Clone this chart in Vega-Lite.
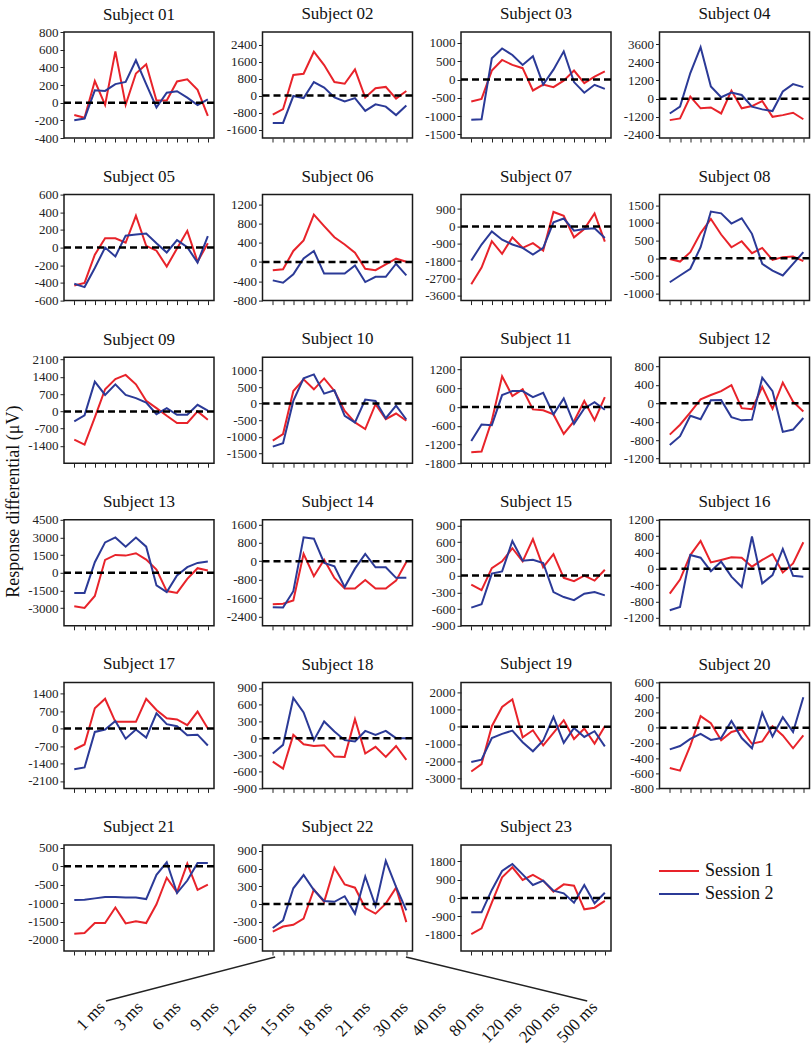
{
"$schema": "https://vega.github.io/schema/vega-lite/v6.json",
"padding": {"left": 4, "top": 4, "right": 0, "bottom": 0},
"background": "white",
"title": {"text": "Response differential (μV)", "orient": "left", "anchor": "middle", "frame": "bounds", "dx": 23, "font": "Liberation Serif", "fontSize": 18, "fontWeight": "normal", "color": "#111", "offset": 4},
"config": {
  "locale": {"number": {"decimal": ".", "thousands": "", "grouping": [3], "currency": ["$", ""], "minus": "-"}},
  "numberFormat": "d",
  "view": {"stroke": "#1a1a1a", "strokeWidth": 1.5},
  "title": {"font": "Liberation Serif", "fontSize": 17, "fontWeight": "normal", "offset": 9, "color": "#111", "frame": "group"},
  "axis": {"grid": false, "domain": false, "labelFont": "Liberation Serif", "labelFontSize": 13, "labelColor": "#222", "tickColor": "#222", "tickSize": 4, "labelPadding": 2, "labelOverlap": false, "labelBound": false, "tickCount": 40},
  "axisY": {"minExtent": 34, "maxExtent": 34},
  "legend": {"orient": "none", "legendX": 594, "legendY": 830, "labelFont": "Liberation Serif", "labelFontSize": 18, "labelColor": "#111", "labelOffset": 29, "rowPadding": 5, "padding": 0, "symbolSize": 256, "symbolStrokeWidth": 2}
},
"datasets": {
"d": [
{"s":"01","t":1,"Session 1":-140,"Session 2":-198},{"s":"01","t":2,"Session 1":-170,"Session 2":-180},{"s":"01","t":3,"Session 1":245,"Session 2":140},{"s":"01","t":4,"Session 1":-25,"Session 2":133},{"s":"01","t":5,"Session 1":580,"Session 2":210},{"s":"01","t":6,"Session 1":-25,"Session 2":235},{"s":"01","t":7,"Session 1":330,"Session 2":480},{"s":"01","t":8,"Session 1":435,"Session 2":210},{"s":"01","t":9,"Session 1":25,"Session 2":-55},{"s":"01","t":10,"Session 1":25,"Session 2":112},{"s":"01","t":11,"Session 1":240,"Session 2":130},{"s":"01","t":12,"Session 1":265,"Session 2":57},{"s":"01","t":13,"Session 1":145,"Session 2":-27},{"s":"01","t":14,"Session 1":-150,"Session 2":38},
{"s":"02","t":1,"Session 1":-900,"Session 2":-1290},{"s":"02","t":2,"Session 1":-640,"Session 2":-1290},{"s":"02","t":3,"Session 1":970,"Session 2":-20},{"s":"02","t":4,"Session 1":1030,"Session 2":-120},{"s":"02","t":5,"Session 1":2070,"Session 2":640},{"s":"02","t":6,"Session 1":1440,"Session 2":380},{"s":"02","t":7,"Session 1":640,"Session 2":-90},{"s":"02","t":8,"Session 1":560,"Session 2":-280},{"s":"02","t":9,"Session 1":1240,"Session 2":-120},{"s":"02","t":10,"Session 1":-90,"Session 2":-720},{"s":"02","t":11,"Session 1":350,"Session 2":-410},{"s":"02","t":12,"Session 1":410,"Session 2":-520},{"s":"02","t":13,"Session 1":-140,"Session 2":-920},{"s":"02","t":14,"Session 1":220,"Session 2":-470},
{"s":"03","t":1,"Session 1":-600,"Session 2":-1100},{"s":"03","t":2,"Session 1":-530,"Session 2":-1090},{"s":"03","t":3,"Session 1":245,"Session 2":580},{"s":"03","t":4,"Session 1":535,"Session 2":850},{"s":"03","t":5,"Session 1":400,"Session 2":670},{"s":"03","t":6,"Session 1":310,"Session 2":400},{"s":"03","t":7,"Session 1":-300,"Session 2":635},{"s":"03","t":8,"Session 1":-140,"Session 2":-140},{"s":"03","t":9,"Session 1":-210,"Session 2":270},{"s":"03","t":10,"Session 1":-30,"Session 2":770},{"s":"03","t":11,"Session 1":245,"Session 2":-70},{"s":"03","t":12,"Session 1":-100,"Session 2":-360},{"s":"03","t":13,"Session 1":80,"Session 2":-145},{"s":"03","t":14,"Session 1":220,"Session 2":-255},
{"s":"04","t":1,"Session 1":-1420,"Session 2":-980},{"s":"04","t":2,"Session 1":-1310,"Session 2":-530},{"s":"04","t":3,"Session 1":130,"Session 2":1690},{"s":"04","t":4,"Session 1":-640,"Session 2":3400},{"s":"04","t":5,"Session 1":-580,"Session 2":800},{"s":"04","t":6,"Session 1":-980,"Session 2":90},{"s":"04","t":7,"Session 1":530,"Session 2":400},{"s":"04","t":8,"Session 1":-640,"Session 2":240},{"s":"04","t":9,"Session 1":-490,"Session 2":-530},{"s":"04","t":10,"Session 1":-160,"Session 2":-710},{"s":"04","t":11,"Session 1":-1200,"Session 2":-820},{"s":"04","t":12,"Session 1":-1090,"Session 2":470},{"s":"04","t":13,"Session 1":-930,"Session 2":960},{"s":"04","t":14,"Session 1":-1360,"Session 2":760},
{"s":"05","t":1,"Session 1":-430,"Session 2":-410},{"s":"05","t":2,"Session 1":-400,"Session 2":-447},{"s":"05","t":3,"Session 1":-80,"Session 2":-230},{"s":"05","t":4,"Session 1":105,"Session 2":0},{"s":"05","t":5,"Session 1":105,"Session 2":-100},{"s":"05","t":6,"Session 1":55,"Session 2":135},{"s":"05","t":7,"Session 1":360,"Session 2":147},{"s":"05","t":8,"Session 1":20,"Session 2":160},{"s":"05","t":9,"Session 1":-35,"Session 2":50},{"s":"05","t":10,"Session 1":-215,"Session 2":-55},{"s":"05","t":11,"Session 1":-10,"Session 2":85},{"s":"05","t":12,"Session 1":190,"Session 2":5},{"s":"05","t":13,"Session 1":-160,"Session 2":-170},{"s":"05","t":14,"Session 1":50,"Session 2":130},
{"s":"06","t":1,"Session 1":-170,"Session 2":-380},{"s":"06","t":2,"Session 1":-150,"Session 2":-430},{"s":"06","t":3,"Session 1":230,"Session 2":-255},{"s":"06","t":4,"Session 1":450,"Session 2":75},{"s":"06","t":5,"Session 1":985,"Session 2":230},{"s":"06","t":6,"Session 1":745,"Session 2":-240},{"s":"06","t":7,"Session 1":515,"Session 2":-240},{"s":"06","t":8,"Session 1":365,"Session 2":-240},{"s":"06","t":9,"Session 1":195,"Session 2":-70},{"s":"06","t":10,"Session 1":-140,"Session 2":-415},{"s":"06","t":11,"Session 1":-170,"Session 2":-305},{"s":"06","t":12,"Session 1":-50,"Session 2":-305},{"s":"06","t":13,"Session 1":70,"Session 2":-35},{"s":"06","t":14,"Session 1":5,"Session 2":-275},
{"s":"07","t":1,"Session 1":-3000,"Session 2":-1770},{"s":"07","t":2,"Session 1":-2140,"Session 2":-940},{"s":"07","t":3,"Session 1":-770,"Session 2":-260},{"s":"07","t":4,"Session 1":-1420,"Session 2":-690},{"s":"07","t":5,"Session 1":-570,"Session 2":-940},{"s":"07","t":6,"Session 1":-1110,"Session 2":-1110},{"s":"07","t":7,"Session 1":-870,"Session 2":-1460},{"s":"07","t":8,"Session 1":-1250,"Session 2":-1110},{"s":"07","t":9,"Session 1":750,"Session 2":210},{"s":"07","t":10,"Session 1":550,"Session 2":410},{"s":"07","t":11,"Session 1":-570,"Session 2":-220},{"s":"07","t":12,"Session 1":-140,"Session 2":-140},{"s":"07","t":13,"Session 1":670,"Session 2":-100},{"s":"07","t":14,"Session 1":-790,"Session 2":-600},
{"s":"08","t":1,"Session 1":-20,"Session 2":-680},{"s":"08","t":2,"Session 1":-95,"Session 2":-490},{"s":"08","t":3,"Session 1":170,"Session 2":-300},{"s":"08","t":4,"Session 1":710,"Session 2":310},{"s":"08","t":5,"Session 1":1110,"Session 2":1320},{"s":"08","t":6,"Session 1":670,"Session 2":1270},{"s":"08","t":7,"Session 1":310,"Session 2":980},{"s":"08","t":8,"Session 1":480,"Session 2":1130},{"s":"08","t":9,"Session 1":140,"Session 2":690},{"s":"08","t":10,"Session 1":290,"Session 2":-160},{"s":"08","t":11,"Session 1":-50,"Session 2":-350},{"s":"08","t":12,"Session 1":30,"Session 2":-490},{"s":"08","t":13,"Session 1":50,"Session 2":-160},{"s":"08","t":14,"Session 1":-85,"Session 2":170},
{"s":"09","t":1,"Session 1":-1140,"Session 2":-400},{"s":"09","t":2,"Session 1":-1350,"Session 2":-160},{"s":"09","t":3,"Session 1":-240,"Session 2":1210},{"s":"09","t":4,"Session 1":900,"Session 2":670},{"s":"09","t":5,"Session 1":1310,"Session 2":1100},{"s":"09","t":6,"Session 1":1480,"Session 2":670},{"s":"09","t":7,"Session 1":1100,"Session 2":540},{"s":"09","t":8,"Session 1":430,"Session 2":360},{"s":"09","t":9,"Session 1":135,"Session 2":-110},{"s":"09","t":10,"Session 1":-175,"Session 2":135},{"s":"09","t":11,"Session 1":-470,"Session 2":-135},{"s":"09","t":12,"Session 1":-470,"Session 2":-135},{"s":"09","t":13,"Session 1":0,"Session 2":270},{"s":"09","t":14,"Session 1":-340,"Session 2":30},
{"s":"10","t":1,"Session 1":-1120,"Session 2":-1300},{"s":"10","t":2,"Session 1":-920,"Session 2":-1200},{"s":"10","t":3,"Session 1":380,"Session 2":80},{"s":"10","t":4,"Session 1":730,"Session 2":760},{"s":"10","t":5,"Session 1":430,"Session 2":880},{"s":"10","t":6,"Session 1":760,"Session 2":300},{"s":"10","t":7,"Session 1":380,"Session 2":400},{"s":"10","t":8,"Session 1":-220,"Session 2":-370},{"s":"10","t":9,"Session 1":-570,"Session 2":-570},{"s":"10","t":10,"Session 1":-770,"Session 2":120},{"s":"10","t":11,"Session 1":-20,"Session 2":80},{"s":"10","t":12,"Session 1":-470,"Session 2":-440},{"s":"10","t":13,"Session 1":-300,"Session 2":-60},{"s":"10","t":14,"Session 1":-520,"Session 2":-480},
{"s":"11","t":1,"Session 1":-1450,"Session 2":-1090},{"s":"11","t":2,"Session 1":-1425,"Session 2":-560},{"s":"11","t":3,"Session 1":-430,"Session 2":-580},{"s":"11","t":4,"Session 1":985,"Session 2":385},{"s":"11","t":5,"Session 1":355,"Session 2":515},{"s":"11","t":6,"Session 1":570,"Session 2":515},{"s":"11","t":7,"Session 1":-75,"Session 2":320},{"s":"11","t":8,"Session 1":-105,"Session 2":460},{"s":"11","t":9,"Session 1":-235,"Session 2":-235},{"s":"11","t":10,"Session 1":-860,"Session 2":280},{"s":"11","t":11,"Session 1":-450,"Session 2":-535},{"s":"11","t":12,"Session 1":195,"Session 2":-45},{"s":"11","t":13,"Session 1":-420,"Session 2":160},{"s":"11","t":14,"Session 1":320,"Session 2":-85},
{"s":"12","t":1,"Session 1":-680,"Session 2":-905},{"s":"12","t":2,"Session 1":-465,"Session 2":-715},{"s":"12","t":3,"Session 1":-195,"Session 2":-270},{"s":"12","t":4,"Session 1":85,"Session 2":-345},{"s":"12","t":5,"Session 1":180,"Session 2":65},{"s":"12","t":6,"Session 1":265,"Session 2":70},{"s":"12","t":7,"Session 1":395,"Session 2":-300},{"s":"12","t":8,"Session 1":-105,"Session 2":-370},{"s":"12","t":9,"Session 1":-130,"Session 2":-355},{"s":"12","t":10,"Session 1":355,"Session 2":555},{"s":"12","t":11,"Session 1":-120,"Session 2":265},{"s":"12","t":12,"Session 1":450,"Session 2":-620},{"s":"12","t":13,"Session 1":35,"Session 2":-570},{"s":"12","t":14,"Session 1":-180,"Session 2":-320},
{"s":"13","t":1,"Session 1":-2840,"Session 2":-1710},{"s":"13","t":2,"Session 1":-2980,"Session 2":-1710},{"s":"13","t":3,"Session 1":-1970,"Session 2":900},{"s":"13","t":4,"Session 1":1100,"Session 2":2580},{"s":"13","t":5,"Session 1":1520,"Session 2":3000},{"s":"13","t":6,"Session 1":1460,"Session 2":2220},{"s":"13","t":7,"Session 1":1660,"Session 2":3000},{"s":"13","t":8,"Session 1":1120,"Session 2":2220},{"s":"13","t":9,"Session 1":280,"Session 2":-1070},{"s":"13","t":10,"Session 1":-1550,"Session 2":-1630},{"s":"13","t":11,"Session 1":-1710,"Session 2":-220},{"s":"13","t":12,"Session 1":-510,"Session 2":480},{"s":"13","t":13,"Session 1":390,"Session 2":840},{"s":"13","t":14,"Session 1":200,"Session 2":950},
{"s":"14","t":1,"Session 1":-1870,"Session 2":-1990},{"s":"14","t":2,"Session 1":-1840,"Session 2":-2010},{"s":"14","t":3,"Session 1":-1700,"Session 2":-1300},{"s":"14","t":4,"Session 1":320,"Session 2":1040},{"s":"14","t":5,"Session 1":-650,"Session 2":980},{"s":"14","t":6,"Session 1":70,"Session 2":-70},{"s":"14","t":7,"Session 1":-720,"Session 2":-220},{"s":"14","t":8,"Session 1":-1180,"Session 2":-1120},{"s":"14","t":9,"Session 1":-1180,"Session 2":-320},{"s":"14","t":10,"Session 1":-810,"Session 2":320},{"s":"14","t":11,"Session 1":-1180,"Session 2":-260},{"s":"14","t":12,"Session 1":-1180,"Session 2":-260},{"s":"14","t":13,"Session 1":-840,"Session 2":-720},{"s":"14","t":14,"Session 1":-30,"Session 2":-720},
{"s":"15","t":1,"Session 1":-160,"Session 2":-575},{"s":"15","t":2,"Session 1":-260,"Session 2":-515},{"s":"15","t":3,"Session 1":135,"Session 2":35},{"s":"15","t":4,"Session 1":255,"Session 2":75},{"s":"15","t":5,"Session 1":490,"Session 2":620},{"s":"15","t":6,"Session 1":255,"Session 2":265},{"s":"15","t":7,"Session 1":655,"Session 2":285},{"s":"15","t":8,"Session 1":150,"Session 2":225},{"s":"15","t":9,"Session 1":385,"Session 2":-295},{"s":"15","t":10,"Session 1":-40,"Session 2":-385},{"s":"15","t":11,"Session 1":-100,"Session 2":-440},{"s":"15","t":12,"Session 1":0,"Session 2":-325},{"s":"15","t":13,"Session 1":-90,"Session 2":-295},{"s":"15","t":14,"Session 1":105,"Session 2":-355},
{"s":"16","t":1,"Session 1":-610,"Session 2":-1020},{"s":"16","t":2,"Session 1":-265,"Session 2":-940},{"s":"16","t":3,"Session 1":335,"Session 2":335},{"s":"16","t":4,"Session 1":680,"Session 2":270},{"s":"16","t":5,"Session 1":155,"Session 2":-60},{"s":"16","t":6,"Session 1":215,"Session 2":175},{"s":"16","t":7,"Session 1":280,"Session 2":-195},{"s":"16","t":8,"Session 1":270,"Session 2":-445},{"s":"16","t":9,"Session 1":50,"Session 2":790},{"s":"16","t":10,"Session 1":215,"Session 2":-360},{"s":"16","t":11,"Session 1":360,"Session 2":-155},{"s":"16","t":12,"Session 1":-90,"Session 2":485},{"s":"16","t":13,"Session 1":130,"Session 2":-175},{"s":"16","t":14,"Session 1":650,"Session 2":-195},
{"s":"17","t":1,"Session 1":-840,"Session 2":-1630},{"s":"17","t":2,"Session 1":-640,"Session 2":-1560},{"s":"17","t":3,"Session 1":815,"Session 2":-135},{"s":"17","t":4,"Session 1":1195,"Session 2":-40},{"s":"17","t":5,"Session 1":270,"Session 2":300},{"s":"17","t":6,"Session 1":270,"Session 2":-410},{"s":"17","t":7,"Session 1":270,"Session 2":-40},{"s":"17","t":8,"Session 1":1195,"Session 2":-365},{"s":"17","t":9,"Session 1":745,"Session 2":610},{"s":"17","t":10,"Session 1":410,"Session 2":175},{"s":"17","t":11,"Session 1":365,"Session 2":95},{"s":"17","t":12,"Session 1":135,"Session 2":-270},{"s":"17","t":13,"Session 1":680,"Session 2":-245},{"s":"17","t":14,"Session 1":0,"Session 2":-680},
{"s":"18","t":1,"Session 1":-420,"Session 2":-275},{"s":"18","t":2,"Session 1":-545,"Session 2":-120},{"s":"18","t":3,"Session 1":60,"Session 2":720},{"s":"18","t":4,"Session 1":-110,"Session 2":460},{"s":"18","t":5,"Session 1":-140,"Session 2":-35},{"s":"18","t":6,"Session 1":-125,"Session 2":300},{"s":"18","t":7,"Session 1":-330,"Session 2":120},{"s":"18","t":8,"Session 1":-335,"Session 2":-35},{"s":"18","t":9,"Session 1":340,"Session 2":-60},{"s":"18","t":10,"Session 1":-275,"Session 2":130},{"s":"18","t":11,"Session 1":-155,"Session 2":60},{"s":"18","t":12,"Session 1":-335,"Session 2":130},{"s":"18","t":13,"Session 1":-140,"Session 2":0},{"s":"18","t":14,"Session 1":-390,"Session 2":0},
{"s":"19","t":1,"Session 1":-2610,"Session 2":-2060},{"s":"19","t":2,"Session 1":-2180,"Session 2":-1920},{"s":"19","t":3,"Session 1":40,"Session 2":-650},{"s":"19","t":4,"Session 1":1160,"Session 2":-410},{"s":"19","t":5,"Session 1":1610,"Session 2":-220},{"s":"19","t":6,"Session 1":-610,"Session 2":-900},{"s":"19","t":7,"Session 1":-200,"Session 2":-1430},{"s":"19","t":8,"Session 1":-1080,"Session 2":-800},{"s":"19","t":9,"Session 1":-350,"Session 2":590},{"s":"19","t":10,"Session 1":390,"Session 2":-940},{"s":"19","t":11,"Session 1":-710,"Session 2":-60},{"s":"19","t":12,"Session 1":-100,"Session 2":-590},{"s":"19","t":13,"Session 1":-980,"Session 2":-255},{"s":"19","t":14,"Session 1":40,"Session 2":-1140},
{"s":"20","t":1,"Session 1":-530,"Session 2":-285},{"s":"20","t":2,"Session 1":-565,"Session 2":-240},{"s":"20","t":3,"Session 1":-235,"Session 2":-145},{"s":"20","t":4,"Session 1":155,"Session 2":-80},{"s":"20","t":5,"Session 1":60,"Session 2":-160},{"s":"20","t":6,"Session 1":-165,"Session 2":-135},{"s":"20","t":7,"Session 1":-55,"Session 2":90},{"s":"20","t":8,"Session 1":-20,"Session 2":-135},{"s":"20","t":9,"Session 1":-210,"Session 2":-270},{"s":"20","t":10,"Session 1":-180,"Session 2":200},{"s":"20","t":11,"Session 1":20,"Session 2":-115},{"s":"20","t":12,"Session 1":-100,"Session 2":140},{"s":"20","t":13,"Session 1":-270,"Session 2":-55},{"s":"20","t":14,"Session 1":-100,"Session 2":405},
{"s":"21","t":1,"Session 1":-1830,"Session 2":-915},{"s":"21","t":2,"Session 1":-1810,"Session 2":-910},{"s":"21","t":3,"Session 1":-1540,"Session 2":-870},{"s":"21","t":4,"Session 1":-1540,"Session 2":-830},{"s":"21","t":5,"Session 1":-1120,"Session 2":-830},{"s":"21","t":6,"Session 1":-1550,"Session 2":-845},{"s":"21","t":7,"Session 1":-1490,"Session 2":-845},{"s":"21","t":8,"Session 1":-1540,"Session 2":-890},{"s":"21","t":9,"Session 1":-1030,"Session 2":-230},{"s":"21","t":10,"Session 1":-310,"Session 2":110},{"s":"21","t":11,"Session 1":-705,"Session 2":-725},{"s":"21","t":12,"Session 1":75,"Session 2":-385},{"s":"21","t":13,"Session 1":-640,"Session 2":90},{"s":"21","t":14,"Session 1":-495,"Session 2":90},
{"s":"22","t":1,"Session 1":-470,"Session 2":-410},{"s":"22","t":2,"Session 1":-385,"Session 2":-280},{"s":"22","t":3,"Session 1":-355,"Session 2":265},{"s":"22","t":4,"Session 1":-250,"Session 2":490},{"s":"22","t":5,"Session 1":245,"Session 2":235},{"s":"22","t":6,"Session 1":35,"Session 2":50},{"s":"22","t":7,"Session 1":615,"Session 2":35},{"s":"22","t":8,"Session 1":330,"Session 2":130},{"s":"22","t":9,"Session 1":275,"Session 2":-165},{"s":"22","t":10,"Session 1":-70,"Session 2":465},{"s":"22","t":11,"Session 1":-165,"Session 2":-35},{"s":"22","t":12,"Session 1":5,"Session 2":730},{"s":"22","t":13,"Session 1":275,"Session 2":290},{"s":"22","t":14,"Session 1":-310,"Session 2":-110},
{"s":"23","t":1,"Session 1":-1770,"Session 2":-705},{"s":"23","t":2,"Session 1":-1490,"Session 2":-705},{"s":"23","t":3,"Session 1":-230,"Session 2":395},{"s":"23","t":4,"Session 1":1015,"Session 2":1325},{"s":"23","t":5,"Session 1":1505,"Session 2":1670},{"s":"23","t":6,"Session 1":885,"Session 2":1160},{"s":"23","t":7,"Session 1":1130,"Session 2":640},{"s":"23","t":8,"Session 1":850,"Session 2":850},{"s":"23","t":9,"Session 1":310,"Session 2":360},{"s":"23","t":10,"Session 1":670,"Session 2":230},{"s":"23","t":11,"Session 1":605,"Session 2":-230},{"s":"23","t":12,"Session 1":-555,"Session 2":640},{"s":"23","t":13,"Session 1":-475,"Session 2":-260},{"s":"23","t":14,"Session 1":-145,"Session 2":260}
],
"ms": [{"t":1,"label":"1 ms"},{"t":2,"label":"3 ms"},{"t":3,"label":"6 ms"},{"t":4,"label":"9 ms"},{"t":5,"label":"12 ms"},{"t":6,"label":"15 ms"},{"t":7,"label":"18 ms"},{"t":8,"label":"21 ms"},{"t":9,"label":"30 ms"},{"t":10,"label":"40 ms"},{"t":11,"label":"80 ms"},{"t":12,"label":"120 ms"},{"t":13,"label":"200 ms"},{"t":14,"label":"500 ms"}],
"conn": [{"side":"L","x":5.45,"y":1},{"side":"L","x":0.69,"y":0},{"side":"R","x":9.13,"y":1},{"side":"R","x":14.23,"y":0}]
},
"spacing": -4,
"vconcat": [
{
"columns": 4,
"spacing": {"row": 20.6, "column": 8.5},
"concat": [
{"title":{"text":"Subject 01","dy":6.5},"width":150,"height":106,"data":{"name":"d"},"transform":[{"filter":"datum.s=='01'"},{"fold":["Session 1","Session 2"],"as":["session","v"]}],"layer":[{"mark":{"type":"line","strokeWidth":2},"encoding":{"x":{"field":"t","type":"quantitative","scale":{"domain":[0,14.6]},"axis":{"values":[1,2,3,4,5,6,7,8,9,10,11,12,13,14],"labels":false,"title":null,"tickCount":40}},"y":{"field":"v","type":"quantitative","scale":{"domain":[-400,800],"nice":false,"zero":false},"axis":{"values":[-400,-200,0,200,400,600,800],"title":null,"tickCount":40}},"color":{"field":"session","type":"nominal","scale":{"domain":["Session 1","Session 2"],"range":["#e8232a","#2b3a97"]},"legend":{"title":null,"symbolType":"M-1,0H4"}}}},{"data":{"values":[{}]},"mark":{"type":"rule","strokeDash":[7,4],"strokeWidth":2.5,"color":"#000"},"encoding":{"y":{"datum":0}}}]},
{"title":"Subject 02","width":150,"height":106,"data":{"name":"d"},"transform":[{"filter":"datum.s=='02'"},{"fold":["Session 1","Session 2"],"as":["session","v"]}],"layer":[{"mark":{"type":"line","strokeWidth":2},"encoding":{"x":{"field":"t","type":"quantitative","scale":{"domain":[0,14.6]},"axis":{"values":[1,2,3,4,5,6,7,8,9,10,11,12,13,14],"labels":false,"title":null,"tickCount":40}},"y":{"field":"v","type":"quantitative","scale":{"domain":[-2000,3000],"nice":false,"zero":false},"axis":{"values":[-1600,-800,0,800,1600,2400],"title":null,"tickCount":40}},"color":{"field":"session","type":"nominal","scale":{"domain":["Session 1","Session 2"],"range":["#e8232a","#2b3a97"]},"legend":{"title":null,"symbolType":"M-1,0H4"}}}},{"data":{"values":[{}]},"mark":{"type":"rule","strokeDash":[7,4],"strokeWidth":2.5,"color":"#000"},"encoding":{"y":{"datum":0}}}]},
{"title":"Subject 03","width":150,"height":106,"data":{"name":"d"},"transform":[{"filter":"datum.s=='03'"},{"fold":["Session 1","Session 2"],"as":["session","v"]}],"layer":[{"mark":{"type":"line","strokeWidth":2},"encoding":{"x":{"field":"t","type":"quantitative","scale":{"domain":[0,14.6]},"axis":{"values":[1,2,3,4,5,6,7,8,9,10,11,12,13,14],"labels":false,"title":null,"tickCount":40}},"y":{"field":"v","type":"quantitative","scale":{"domain":[-1600,1300],"nice":false,"zero":false},"axis":{"values":[-1500,-1000,-500,0,500,1000],"title":null,"tickCount":40}},"color":{"field":"session","type":"nominal","scale":{"domain":["Session 1","Session 2"],"range":["#e8232a","#2b3a97"]},"legend":{"title":null,"symbolType":"M-1,0H4"}}}},{"data":{"values":[{}]},"mark":{"type":"rule","strokeDash":[7,4],"strokeWidth":2.5,"color":"#000"},"encoding":{"y":{"datum":0}}}]},
{"title":"Subject 04","width":150,"height":106,"data":{"name":"d"},"transform":[{"filter":"datum.s=='04'"},{"fold":["Session 1","Session 2"],"as":["session","v"]}],"layer":[{"mark":{"type":"line","strokeWidth":2},"encoding":{"x":{"field":"t","type":"quantitative","scale":{"domain":[0,14.6]},"axis":{"values":[1,2,3,4,5,6,7,8,9,10,11,12,13,14],"labels":false,"title":null,"tickCount":40}},"y":{"field":"v","type":"quantitative","scale":{"domain":[-2600,4400],"nice":false,"zero":false},"axis":{"values":[-2400,-1200,0,1200,2400,3600],"title":null,"tickCount":40}},"color":{"field":"session","type":"nominal","scale":{"domain":["Session 1","Session 2"],"range":["#e8232a","#2b3a97"]},"legend":{"title":null,"symbolType":"M-1,0H4"}}}},{"data":{"values":[{}]},"mark":{"type":"rule","strokeDash":[7,4],"strokeWidth":2.5,"color":"#000"},"encoding":{"y":{"datum":0}}}]},
{"title":{"text":"Subject 05","dy":6.5},"width":150,"height":106,"data":{"name":"d"},"transform":[{"filter":"datum.s=='05'"},{"fold":["Session 1","Session 2"],"as":["session","v"]}],"layer":[{"mark":{"type":"line","strokeWidth":2},"encoding":{"x":{"field":"t","type":"quantitative","scale":{"domain":[0,14.6]},"axis":{"values":[1,2,3,4,5,6,7,8,9,10,11,12,13,14],"labels":false,"title":null,"tickCount":40}},"y":{"field":"v","type":"quantitative","scale":{"domain":[-600,600],"nice":false,"zero":false},"axis":{"values":[-600,-400,-200,0,200,400,600],"title":null,"tickCount":40}},"color":{"field":"session","type":"nominal","scale":{"domain":["Session 1","Session 2"],"range":["#e8232a","#2b3a97"]},"legend":{"title":null,"symbolType":"M-1,0H4"}}}},{"data":{"values":[{}]},"mark":{"type":"rule","strokeDash":[7,4],"strokeWidth":2.5,"color":"#000"},"encoding":{"y":{"datum":0}}}]},
{"title":"Subject 06","width":150,"height":106,"data":{"name":"d"},"transform":[{"filter":"datum.s=='06'"},{"fold":["Session 1","Session 2"],"as":["session","v"]}],"layer":[{"mark":{"type":"line","strokeWidth":2},"encoding":{"x":{"field":"t","type":"quantitative","scale":{"domain":[0,14.6]},"axis":{"values":[1,2,3,4,5,6,7,8,9,10,11,12,13,14],"labels":false,"title":null,"tickCount":40}},"y":{"field":"v","type":"quantitative","scale":{"domain":[-800,1400],"nice":false,"zero":false},"axis":{"values":[-800,-400,0,400,800,1200],"title":null,"tickCount":40}},"color":{"field":"session","type":"nominal","scale":{"domain":["Session 1","Session 2"],"range":["#e8232a","#2b3a97"]},"legend":{"title":null,"symbolType":"M-1,0H4"}}}},{"data":{"values":[{}]},"mark":{"type":"rule","strokeDash":[7,4],"strokeWidth":2.5,"color":"#000"},"encoding":{"y":{"datum":0}}}]},
{"title":"Subject 07","width":150,"height":106,"data":{"name":"d"},"transform":[{"filter":"datum.s=='07'"},{"fold":["Session 1","Session 2"],"as":["session","v"]}],"layer":[{"mark":{"type":"line","strokeWidth":2},"encoding":{"x":{"field":"t","type":"quantitative","scale":{"domain":[0,14.6]},"axis":{"values":[1,2,3,4,5,6,7,8,9,10,11,12,13,14],"labels":false,"title":null,"tickCount":40}},"y":{"field":"v","type":"quantitative","scale":{"domain":[-3850,1650],"nice":false,"zero":false},"axis":{"values":[-3600,-2700,-1800,-900,0,900],"title":null,"tickCount":40}},"color":{"field":"session","type":"nominal","scale":{"domain":["Session 1","Session 2"],"range":["#e8232a","#2b3a97"]},"legend":{"title":null,"symbolType":"M-1,0H4"}}}},{"data":{"values":[{}]},"mark":{"type":"rule","strokeDash":[7,4],"strokeWidth":2.5,"color":"#000"},"encoding":{"y":{"datum":0}}}]},
{"title":"Subject 08","width":150,"height":106,"data":{"name":"d"},"transform":[{"filter":"datum.s=='08'"},{"fold":["Session 1","Session 2"],"as":["session","v"]}],"layer":[{"mark":{"type":"line","strokeWidth":2},"encoding":{"x":{"field":"t","type":"quantitative","scale":{"domain":[0,14.6]},"axis":{"values":[1,2,3,4,5,6,7,8,9,10,11,12,13,14],"labels":false,"title":null,"tickCount":40}},"y":{"field":"v","type":"quantitative","scale":{"domain":[-1200,1800],"nice":false,"zero":false},"axis":{"values":[-1000,-500,0,500,1000,1500],"title":null,"tickCount":40}},"color":{"field":"session","type":"nominal","scale":{"domain":["Session 1","Session 2"],"range":["#e8232a","#2b3a97"]},"legend":{"title":null,"symbolType":"M-1,0H4"}}}},{"data":{"values":[{}]},"mark":{"type":"rule","strokeDash":[7,4],"strokeWidth":2.5,"color":"#000"},"encoding":{"y":{"datum":0}}}]},
{"title":{"text":"Subject 09","dy":4},"width":150,"height":106,"data":{"name":"d"},"transform":[{"filter":"datum.s=='09'"},{"fold":["Session 1","Session 2"],"as":["session","v"]}],"layer":[{"mark":{"type":"line","strokeWidth":2},"encoding":{"x":{"field":"t","type":"quantitative","scale":{"domain":[0,14.6]},"axis":{"values":[1,2,3,4,5,6,7,8,9,10,11,12,13,14],"labels":false,"title":null,"tickCount":40}},"y":{"field":"v","type":"quantitative","scale":{"domain":[-2100,2200],"nice":false,"zero":false},"axis":{"values":[-1400,-700,0,700,1400,2100],"title":null,"tickCount":40}},"color":{"field":"session","type":"nominal","scale":{"domain":["Session 1","Session 2"],"range":["#e8232a","#2b3a97"]},"legend":{"title":null,"symbolType":"M-1,0H4"}}}},{"data":{"values":[{}]},"mark":{"type":"rule","strokeDash":[7,4],"strokeWidth":2.5,"color":"#000"},"encoding":{"y":{"datum":0}}}]},
{"title":"Subject 10","width":150,"height":106,"data":{"name":"d"},"transform":[{"filter":"datum.s=='10'"},{"fold":["Session 1","Session 2"],"as":["session","v"]}],"layer":[{"mark":{"type":"line","strokeWidth":2},"encoding":{"x":{"field":"t","type":"quantitative","scale":{"domain":[0,14.6]},"axis":{"values":[1,2,3,4,5,6,7,8,9,10,11,12,13,14],"labels":false,"title":null,"tickCount":40}},"y":{"field":"v","type":"quantitative","scale":{"domain":[-1800,1400],"nice":false,"zero":false},"axis":{"values":[-1500,-1000,-500,0,500,1000],"title":null,"tickCount":40}},"color":{"field":"session","type":"nominal","scale":{"domain":["Session 1","Session 2"],"range":["#e8232a","#2b3a97"]},"legend":{"title":null,"symbolType":"M-1,0H4"}}}},{"data":{"values":[{}]},"mark":{"type":"rule","strokeDash":[7,4],"strokeWidth":2.5,"color":"#000"},"encoding":{"y":{"datum":0}}}]},
{"title":"Subject 11","width":150,"height":106,"data":{"name":"d"},"transform":[{"filter":"datum.s=='11'"},{"fold":["Session 1","Session 2"],"as":["session","v"]}],"layer":[{"mark":{"type":"line","strokeWidth":2},"encoding":{"x":{"field":"t","type":"quantitative","scale":{"domain":[0,14.6]},"axis":{"values":[1,2,3,4,5,6,7,8,9,10,11,12,13,14],"labels":false,"title":null,"tickCount":40}},"y":{"field":"v","type":"quantitative","scale":{"domain":[-1800,1600],"nice":false,"zero":false},"axis":{"values":[-1800,-1200,-600,0,600,1200],"title":null,"tickCount":40}},"color":{"field":"session","type":"nominal","scale":{"domain":["Session 1","Session 2"],"range":["#e8232a","#2b3a97"]},"legend":{"title":null,"symbolType":"M-1,0H4"}}}},{"data":{"values":[{}]},"mark":{"type":"rule","strokeDash":[7,4],"strokeWidth":2.5,"color":"#000"},"encoding":{"y":{"datum":0}}}]},
{"title":"Subject 12","width":150,"height":106,"data":{"name":"d"},"transform":[{"filter":"datum.s=='12'"},{"fold":["Session 1","Session 2"],"as":["session","v"]}],"layer":[{"mark":{"type":"line","strokeWidth":2},"encoding":{"x":{"field":"t","type":"quantitative","scale":{"domain":[0,14.6]},"axis":{"values":[1,2,3,4,5,6,7,8,9,10,11,12,13,14],"labels":false,"title":null,"tickCount":40}},"y":{"field":"v","type":"quantitative","scale":{"domain":[-1300,1000],"nice":false,"zero":false},"axis":{"values":[-1200,-800,-400,0,400,800],"title":null,"tickCount":40}},"color":{"field":"session","type":"nominal","scale":{"domain":["Session 1","Session 2"],"range":["#e8232a","#2b3a97"]},"legend":{"title":null,"symbolType":"M-1,0H4"}}}},{"data":{"values":[{}]},"mark":{"type":"rule","strokeDash":[7,4],"strokeWidth":2.5,"color":"#000"},"encoding":{"y":{"datum":0}}}]},
{"title":{"text":"Subject 13","dy":6.5},"width":150,"height":106,"data":{"name":"d"},"transform":[{"filter":"datum.s=='13'"},{"fold":["Session 1","Session 2"],"as":["session","v"]}],"layer":[{"mark":{"type":"line","strokeWidth":2},"encoding":{"x":{"field":"t","type":"quantitative","scale":{"domain":[0,14.6]},"axis":{"values":[1,2,3,4,5,6,7,8,9,10,11,12,13,14],"labels":false,"title":null,"tickCount":40}},"y":{"field":"v","type":"quantitative","scale":{"domain":[-4500,4500],"nice":false,"zero":false},"axis":{"values":[-3000,-1500,0,1500,3000,4500],"title":null,"tickCount":40}},"color":{"field":"session","type":"nominal","scale":{"domain":["Session 1","Session 2"],"range":["#e8232a","#2b3a97"]},"legend":{"title":null,"symbolType":"M-1,0H4"}}}},{"data":{"values":[{}]},"mark":{"type":"rule","strokeDash":[7,4],"strokeWidth":2.5,"color":"#000"},"encoding":{"y":{"datum":0}}}]},
{"title":{"text":"Subject 14","dy":2},"width":150,"height":106,"data":{"name":"d"},"transform":[{"filter":"datum.s=='14'"},{"fold":["Session 1","Session 2"],"as":["session","v"]}],"layer":[{"mark":{"type":"line","strokeWidth":2},"encoding":{"x":{"field":"t","type":"quantitative","scale":{"domain":[0,14.6]},"axis":{"values":[1,2,3,4,5,6,7,8,9,10,11,12,13,14],"labels":false,"title":null,"tickCount":40}},"y":{"field":"v","type":"quantitative","scale":{"domain":[-2800,1800],"nice":false,"zero":false},"axis":{"values":[-2400,-1600,-800,0,800,1600],"title":null,"tickCount":40}},"color":{"field":"session","type":"nominal","scale":{"domain":["Session 1","Session 2"],"range":["#e8232a","#2b3a97"]},"legend":{"title":null,"symbolType":"M-1,0H4"}}}},{"data":{"values":[{}]},"mark":{"type":"rule","strokeDash":[7,4],"strokeWidth":2.5,"color":"#000"},"encoding":{"y":{"datum":0}}}]},
{"title":{"text":"Subject 15","dy":1},"width":150,"height":106,"data":{"name":"d"},"transform":[{"filter":"datum.s=='15'"},{"fold":["Session 1","Session 2"],"as":["session","v"]}],"layer":[{"mark":{"type":"line","strokeWidth":2},"encoding":{"x":{"field":"t","type":"quantitative","scale":{"domain":[0,14.6]},"axis":{"values":[1,2,3,4,5,6,7,8,9,10,11,12,13,14],"labels":false,"title":null,"tickCount":40}},"y":{"field":"v","type":"quantitative","scale":{"domain":[-900,1000],"nice":false,"zero":false},"axis":{"values":[-900,-600,-300,0,300,600,900],"title":null,"tickCount":40}},"color":{"field":"session","type":"nominal","scale":{"domain":["Session 1","Session 2"],"range":["#e8232a","#2b3a97"]},"legend":{"title":null,"symbolType":"M-1,0H4"}}}},{"data":{"values":[{}]},"mark":{"type":"rule","strokeDash":[7,4],"strokeWidth":2.5,"color":"#000"},"encoding":{"y":{"datum":0}}}]},
{"title":{"text":"Subject 16","dy":6.5},"width":150,"height":106,"data":{"name":"d"},"transform":[{"filter":"datum.s=='16'"},{"fold":["Session 1","Session 2"],"as":["session","v"]}],"layer":[{"mark":{"type":"line","strokeWidth":2},"encoding":{"x":{"field":"t","type":"quantitative","scale":{"domain":[0,14.6]},"axis":{"values":[1,2,3,4,5,6,7,8,9,10,11,12,13,14],"labels":false,"title":null,"tickCount":40}},"y":{"field":"v","type":"quantitative","scale":{"domain":[-1400,1200],"nice":false,"zero":false},"axis":{"values":[-1200,-800,-400,0,400,800,1200],"title":null,"tickCount":40}},"color":{"field":"session","type":"nominal","scale":{"domain":["Session 1","Session 2"],"range":["#e8232a","#2b3a97"]},"legend":{"title":null,"symbolType":"M-1,0H4"}}}},{"data":{"values":[{}]},"mark":{"type":"rule","strokeDash":[7,4],"strokeWidth":2.5,"color":"#000"},"encoding":{"y":{"datum":0}}}]},
{"title":"Subject 17","width":150,"height":106,"data":{"name":"d"},"transform":[{"filter":"datum.s=='17'"},{"fold":["Session 1","Session 2"],"as":["session","v"]}],"layer":[{"mark":{"type":"line","strokeWidth":2},"encoding":{"x":{"field":"t","type":"quantitative","scale":{"domain":[0,14.6]},"axis":{"values":[1,2,3,4,5,6,7,8,9,10,11,12,13,14],"labels":false,"title":null,"tickCount":40}},"y":{"field":"v","type":"quantitative","scale":{"domain":[-2400,1850],"nice":false,"zero":false},"axis":{"values":[-2100,-1400,-700,0,700,1400],"title":null,"tickCount":40}},"color":{"field":"session","type":"nominal","scale":{"domain":["Session 1","Session 2"],"range":["#e8232a","#2b3a97"]},"legend":{"title":null,"symbolType":"M-1,0H4"}}}},{"data":{"values":[{}]},"mark":{"type":"rule","strokeDash":[7,4],"strokeWidth":2.5,"color":"#000"},"encoding":{"y":{"datum":0}}}]},
{"title":{"text":"Subject 18","dy":1},"width":150,"height":106,"data":{"name":"d"},"transform":[{"filter":"datum.s=='18'"},{"fold":["Session 1","Session 2"],"as":["session","v"]}],"layer":[{"mark":{"type":"line","strokeWidth":2},"encoding":{"x":{"field":"t","type":"quantitative","scale":{"domain":[0,14.6]},"axis":{"values":[1,2,3,4,5,6,7,8,9,10,11,12,13,14],"labels":false,"title":null,"tickCount":40}},"y":{"field":"v","type":"quantitative","scale":{"domain":[-900,1000],"nice":false,"zero":false},"axis":{"values":[-900,-600,-300,0,300,600,900],"title":null,"tickCount":40}},"color":{"field":"session","type":"nominal","scale":{"domain":["Session 1","Session 2"],"range":["#e8232a","#2b3a97"]},"legend":{"title":null,"symbolType":"M-1,0H4"}}}},{"data":{"values":[{}]},"mark":{"type":"rule","strokeDash":[7,4],"strokeWidth":2.5,"color":"#000"},"encoding":{"y":{"datum":0}}}]},
{"title":"Subject 19","width":150,"height":106,"data":{"name":"d"},"transform":[{"filter":"datum.s=='19'"},{"fold":["Session 1","Session 2"],"as":["session","v"]}],"layer":[{"mark":{"type":"line","strokeWidth":2},"encoding":{"x":{"field":"t","type":"quantitative","scale":{"domain":[0,14.6]},"axis":{"values":[1,2,3,4,5,6,7,8,9,10,11,12,13,14],"labels":false,"title":null,"tickCount":40}},"y":{"field":"v","type":"quantitative","scale":{"domain":[-3600,2600],"nice":false,"zero":false},"axis":{"values":[-3000,-2000,-1000,0,1000,2000],"title":null,"tickCount":40}},"color":{"field":"session","type":"nominal","scale":{"domain":["Session 1","Session 2"],"range":["#e8232a","#2b3a97"]},"legend":{"title":null,"symbolType":"M-1,0H4"}}}},{"data":{"values":[{}]},"mark":{"type":"rule","strokeDash":[7,4],"strokeWidth":2.5,"color":"#000"},"encoding":{"y":{"datum":0}}}]},
{"title":{"text":"Subject 20","dy":6.5},"width":150,"height":106,"data":{"name":"d"},"transform":[{"filter":"datum.s=='20'"},{"fold":["Session 1","Session 2"],"as":["session","v"]}],"layer":[{"mark":{"type":"line","strokeWidth":2},"encoding":{"x":{"field":"t","type":"quantitative","scale":{"domain":[0,14.6]},"axis":{"values":[1,2,3,4,5,6,7,8,9,10,11,12,13,14],"labels":false,"title":null,"tickCount":40}},"y":{"field":"v","type":"quantitative","scale":{"domain":[-800,600],"nice":false,"zero":false},"axis":{"values":[-800,-600,-400,-200,0,200,400,600],"title":null,"tickCount":40}},"color":{"field":"session","type":"nominal","scale":{"domain":["Session 1","Session 2"],"range":["#e8232a","#2b3a97"]},"legend":{"title":null,"symbolType":"M-1,0H4"}}}},{"data":{"values":[{}]},"mark":{"type":"rule","strokeDash":[7,4],"strokeWidth":2.5,"color":"#000"},"encoding":{"y":{"datum":0}}}]},
{"title":{"text":"Subject 21","dy":3.5},"width":150,"height":106,"data":{"name":"d"},"transform":[{"filter":"datum.s=='21'"},{"fold":["Session 1","Session 2"],"as":["session","v"]}],"layer":[{"mark":{"type":"line","strokeWidth":2},"encoding":{"x":{"field":"t","type":"quantitative","scale":{"domain":[0,14.6]},"axis":{"values":[1,2,3,4,5,6,7,8,9,10,11,12,13,14],"labels":false,"title":null,"tickCount":40}},"y":{"field":"v","type":"quantitative","scale":{"domain":[-2300,580],"nice":false,"zero":false},"axis":{"values":[-2000,-1500,-1000,-500,0,500],"title":null,"tickCount":40}},"color":{"field":"session","type":"nominal","scale":{"domain":["Session 1","Session 2"],"range":["#e8232a","#2b3a97"]},"legend":{"title":null,"symbolType":"M-1,0H4"}}}},{"data":{"values":[{}]},"mark":{"type":"rule","strokeDash":[7,4],"strokeWidth":2.5,"color":"#000"},"encoding":{"y":{"datum":0}}}]},
{"title":{"text":"Subject 22","dy":0.5},"width":150,"height":106,"data":{"name":"d"},"transform":[{"filter":"datum.s=='22'"},{"fold":["Session 1","Session 2"],"as":["session","v"]}],"layer":[{"mark":{"type":"line","strokeWidth":2},"encoding":{"x":{"field":"t","type":"quantitative","scale":{"domain":[0,14.6]},"axis":{"values":[1,2,3,4,5,6,7,8,9,10,11,12,13,14],"labels":false,"title":null,"tickCount":40}},"y":{"field":"v","type":"quantitative","scale":{"domain":[-800,1000],"nice":false,"zero":false},"axis":{"values":[-600,-300,0,300,600,900],"title":null,"tickCount":40}},"color":{"field":"session","type":"nominal","scale":{"domain":["Session 1","Session 2"],"range":["#e8232a","#2b3a97"]},"legend":{"title":null,"symbolType":"M-1,0H4"}}}},{"data":{"values":[{}]},"mark":{"type":"rule","strokeDash":[7,4],"strokeWidth":2.5,"color":"#000"},"encoding":{"y":{"datum":0}}}]},
{"title":"Subject 23","width":150,"height":106,"data":{"name":"d"},"transform":[{"filter":"datum.s=='23'"},{"fold":["Session 1","Session 2"],"as":["session","v"]}],"layer":[{"mark":{"type":"line","strokeWidth":2},"encoding":{"x":{"field":"t","type":"quantitative","scale":{"domain":[0,14.6]},"axis":{"values":[1,2,3,4,5,6,7,8,9,10,11,12,13,14],"labels":false,"title":null,"tickCount":40}},"y":{"field":"v","type":"quantitative","scale":{"domain":[-2600,2600],"nice":false,"zero":false},"axis":{"values":[-1800,-900,0,900,1800],"title":null,"tickCount":40}},"color":{"field":"session","type":"nominal","scale":{"domain":["Session 1","Session 2"],"range":["#e8232a","#2b3a97"]},"legend":{"title":null,"symbolType":"M-1,0H4"}}}},{"data":{"values":[{}]},"mark":{"type":"rule","strokeDash":[7,4],"strokeWidth":2.5,"color":"#000"},"encoding":{"y":{"datum":0}}}]}
]
},
{
"width": 568, "height": 44,
"view": {"stroke": null},
"layer": [
 {"data": {"name": "ms"}, "mark": {"type": "tick", "opacity": 0}, "encoding": {"x": {"field": "label", "type": "ordinal", "sort": null, "scale": {"type": "point", "padding": 1.49}, "axis": {"title": null, "orient": "bottom", "labelAngle": -46, "labelAlign": "right", "labelBaseline": "middle", "labelFontSize": 17, "labelColor": "#111", "labelPadding": 3, "ticks": false, "domain": false}}}},
 {"data": {"name": "conn"}, "mark": {"type": "line", "color": "#222", "strokeWidth": 1.3}, "encoding": {"x": {"field": "x", "type": "quantitative", "scale": {"domain": [-0.49, 15.49]}, "axis": null}, "y": {"field": "y", "type": "quantitative", "scale": {"domain": [0, 1]}, "axis": null}, "detail": {"field": "side", "type": "nominal"}}}
],
"resolve": {"scale": {"x": "independent"}}
}
]
}
